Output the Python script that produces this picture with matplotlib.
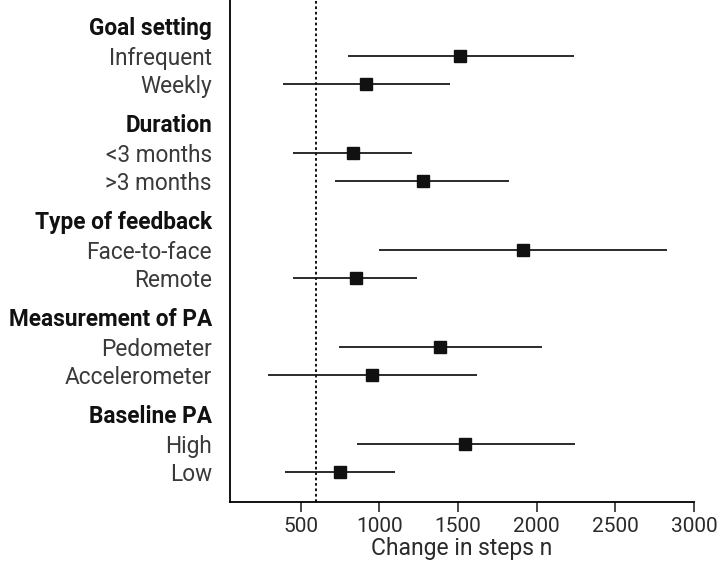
import matplotlib.pyplot as plt
import numpy as np

# forest plot data
groups = ["Goal setting", "Duration", "Type of feedback", "Measurement of PA", "Baseline PA"]
items = [["Infrequent", "Weekly"],
         ["<3 months", ">3 months"],
         ["Face-to-face", "Remote"],
         ["Pedometer", "Accelerometer"],
         ["High", "Low"]]
est = [1510, 915, 829, 1274, 1913, 854, 1386, 953, 1547, 750]
ci_low = [801, 384, 449, 716, 998, 451, 742, 292, 856, 403]
ci_high = [2235, 1447, 1210, 1822, 2831, 1242, 2034, 1619, 2242, 1102]
ref_line = 600

plt.rcParams['font.family'] = ['Roboto', 'DejaVu Sans']

fig = plt.figure(figsize=(7.2, 5.68), dpi=100)
ax = fig.add_axes([0.3194, 0.116, 0.6445, 0.884])

#build row positions: header then its items
tick_pos = []
tick_lab = []
is_header = []
row_y = []
for g, name in enumerate(groups):
    hy = g * 3.4
    tick_pos.append(hy)
    tick_lab.append(name)
    is_header.append(True)
    for i, it in enumerate(items[g]):
        y = hy + 1.05 + i
        tick_pos.append(y)
        tick_lab.append(it)
        is_header.append(False)
        row_y.append(y)
row_y = np.array(row_y)

ax.hlines(row_y, ci_low, ci_high, color='#1a1a1a', linewidth=1.3, zorder=2)
ax.plot(est, row_y, linestyle='none', marker='s', markersize=8.2,
        color='#111111', zorder=3)
ax.axvline(ref_line, color='black', linestyle=(0, (1.5, 1.5)), linewidth=1.3, zorder=1)

ax.set_xlim(50, 3000)
ax.set_ylim(16.70, -0.91)
ax.set_xticks([500, 1000, 1500, 2000, 2500, 3000])
ax.set_xlabel("Change in steps n", fontsize=16.5, color='#2a2a2a', labelpad=1)
ax.set_yticks(tick_pos)
ax.set_yticklabels(tick_lab)
for lab, hd in zip(ax.get_yticklabels(), is_header):
    if hd:
        lab.set_fontweight('bold')
        lab.set_color('#111111')
    else:
        lab.set_color('#3a3a3a')
ax.tick_params(axis='y', length=0, pad=13, labelsize=16.3)
ax.tick_params(axis='x', length=7, width=1.2, labelsize=15, colors='#2a2a2a')

ax.spines['top'].set_visible(False)
ax.spines['right'].set_visible(False)
ax.spines['left'].set_linewidth(1.3)
ax.spines['bottom'].set_linewidth(1.3)

fig.savefig("out.png", dpi=100)
